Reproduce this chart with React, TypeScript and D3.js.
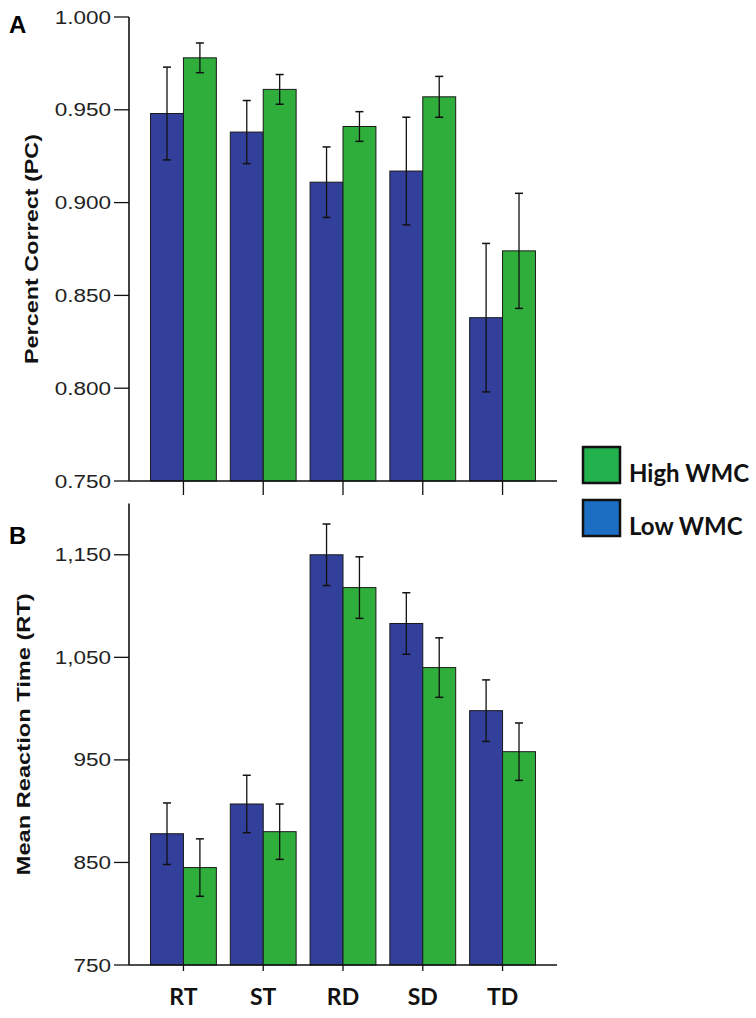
import React from "react";
import * as d3 from "d3";

const categories = ["RT", "ST", "RD", "SD", "TD"];

// panel A: percent correct
const pcLow = [0.948, 0.938, 0.911, 0.917, 0.838];
const pcLowErr = [0.025, 0.017, 0.019, 0.029, 0.04];
const pcHigh = [0.978, 0.961, 0.941, 0.957, 0.874];
const pcHighErr = [0.008, 0.008, 0.008, 0.011, 0.031];
const pcTicks = [0.75, 0.8, 0.85, 0.9, 0.95, 1.0];

// panel B: mean reaction time
const rtLow = [878, 907, 1150, 1083, 998];
const rtLowErr = [30, 28, 30, 30, 30];
const rtHigh = [845, 880, 1118, 1040, 958];
const rtHighErr = [28, 27, 30, 29, 28];
const rtTicks = [750, 850, 950, 1050, 1150];

const groups = ["Low WMC", "High WMC"];
const legendOrder = ["High WMC", "Low WMC"];

const width = 756;
const height = 1018;
const axisLeft = 129;
const axisRight = 557;

const barColor: Record<string, string> = { "Low WMC": "#33409b", "High WMC": "#2fae3c" };
const legendColor: Record<string, string> = { "Low WMC": "#1c6ec3", "High WMC": "#22b14d" };

const tickFont = "'Liberation Sans', Arial, sans-serif";
const labelFont = "Lato, 'Open Sans', sans-serif";

const xScale = d3.scaleBand<string>()
  .domain(categories)
  .range([axisLeft, axisRight])
  .paddingInner(0.175)
  .paddingOuter(0.27);

const xInner = d3.scaleBand<string>()
  .domain(groups)
  .range([0, xScale.bandwidth()]);

type PanelProps = {
  low: number[];
  lowErr: number[];
  high: number[];
  highErr: number[];
  ticks: number[];
  domain: [number, number];
  top: number;
  bottom: number;
  fmt: (v: number) => string;
  xTickLen: number;
  label: string;
  labelX: number;
  labelLen: number;
  letter: string;
  letterY: number;
};

function Panel(p: PanelProps) {
  const y = d3.scaleLinear().domain(p.domain).range([p.bottom, p.top]);
  const base = y(p.domain[0]);
  const series = [
    { key: "Low WMC", vals: p.low, errs: p.lowErr },
    { key: "High WMC", vals: p.high, errs: p.highErr },
  ];

  return (
    <g>
      <text x={9} y={p.letterY} fontSize={24} fontWeight={700} fontFamily={tickFont} fill="#000">
        {p.letter}
      </text>

      {series.map((s) =>
        categories.map((c, i) => {
          const bx = (xScale(c) ?? 0) + (xInner(s.key) ?? 0);
          const bw = xInner.bandwidth();
          const cx = bx + bw / 2;
          const v = s.vals[i];
          const e = s.errs[i];
          return (
            <g key={s.key + c}>
              <rect
                x={bx}
                y={y(v)}
                width={bw}
                height={base - y(v)}
                fill={barColor[s.key]}
                stroke="#1a1a1a"
                strokeWidth={1}
              />
              <line x1={cx} x2={cx} y1={y(v + e)} y2={y(v - e)} stroke="#111" strokeWidth={1.3} />
              <line x1={cx - 4} x2={cx + 4} y1={y(v + e)} y2={y(v + e)} stroke="#111" strokeWidth={1.5} />
              <line x1={cx - 4} x2={cx + 4} y1={y(v - e)} y2={y(v - e)} stroke="#111" strokeWidth={1.5} />
            </g>
          );
        })
      )}

      {/* y axis */}
      <line x1={axisLeft} x2={axisLeft} y1={p.top} y2={base} stroke="#111" strokeWidth={1.6} />
      {p.ticks.map((t) => (
        <g key={t}>
          <line x1={axisLeft - 15} x2={axisLeft} y1={y(t)} y2={y(t)} stroke="#111" strokeWidth={1.3} />
          <text
            transform={`translate(${axisLeft - 18},${y(t) + 6.5}) scale(1.25,1)`}
            textAnchor="end"
            fontSize={18}
            fontFamily={tickFont}
            fill="#222"
          >
            {p.fmt(t)}
          </text>
        </g>
      ))}

      {/* x axis */}
      <line x1={axisLeft} x2={axisRight} y1={base} y2={base} stroke="#111" strokeWidth={1.6} />
      {categories.map((c) => {
        const cx = (xScale(c) ?? 0) + xScale.bandwidth() / 2;
        return (
          <line key={c} x1={cx} x2={cx} y1={base} y2={base + p.xTickLen} stroke="#111" strokeWidth={1.3} />
        );
      })}

      <text
        transform={`translate(${p.labelX},${(p.top + p.bottom) / 2}) rotate(-90)`}
        textAnchor="middle"
        fontSize={19}
        fontWeight={700}
        fontFamily={tickFont}
        textLength={p.labelLen}
        lengthAdjust="spacingAndGlyphs"
        fill="#111"
      >
        {p.label}
      </text>
    </g>
  );
}

export default function App() {
  return (
    <svg
      width={width}
      height={height}
      viewBox={`0 0 ${width} ${height}`}
      style={{ position: "absolute", left: 0, top: 0, background: "#fff" }}
    >
      <Panel
        low={pcLow}
        lowErr={pcLowErr}
        high={pcHigh}
        highErr={pcHighErr}
        ticks={pcTicks}
        domain={[0.75, 1.0]}
        top={17}
        bottom={481}
        fmt={d3.format(".3f")}
        xTickLen={14}
        label="Percent Correct (PC)"
        labelX={38}
        labelLen={230}
        letter="A"
        letterY={33}
      />
      <Panel
        low={rtLow}
        lowErr={rtLowErr}
        high={rtHigh}
        highErr={rtHighErr}
        ticks={rtTicks}
        domain={[750, 1200]}
        top={503.5}
        bottom={965}
        fmt={d3.format(",")}
        xTickLen={6}
        label="Mean Reaction Time (RT)"
        labelX={30}
        labelLen={282}
        letter="B"
        letterY={544}
      />

      {/* category labels */}
      {categories.map((c) => (
        <text
          key={c}
          x={(xScale(c) ?? 0) + xScale.bandwidth() / 2}
          y={1005}
          textAnchor="middle"
          fontSize={23}
          fontWeight={700}
          fontFamily={labelFont}
          fill="#111"
        >
          {c}
        </text>
      ))}

      {/* legend */}
      {legendOrder.map((g, i) => (
        <g key={g} transform={`translate(583,${447 + i * 53})`}>
          <rect x={0} y={0} width={37} height={36} fill={legendColor[g]} stroke="#111" strokeWidth={2.5} />
          <text x={46} y={35} fontSize={24} fontWeight={700} fontFamily={labelFont} fill="#111">
            {g}
          </text>
        </g>
      ))}
    </svg>
  );
}
